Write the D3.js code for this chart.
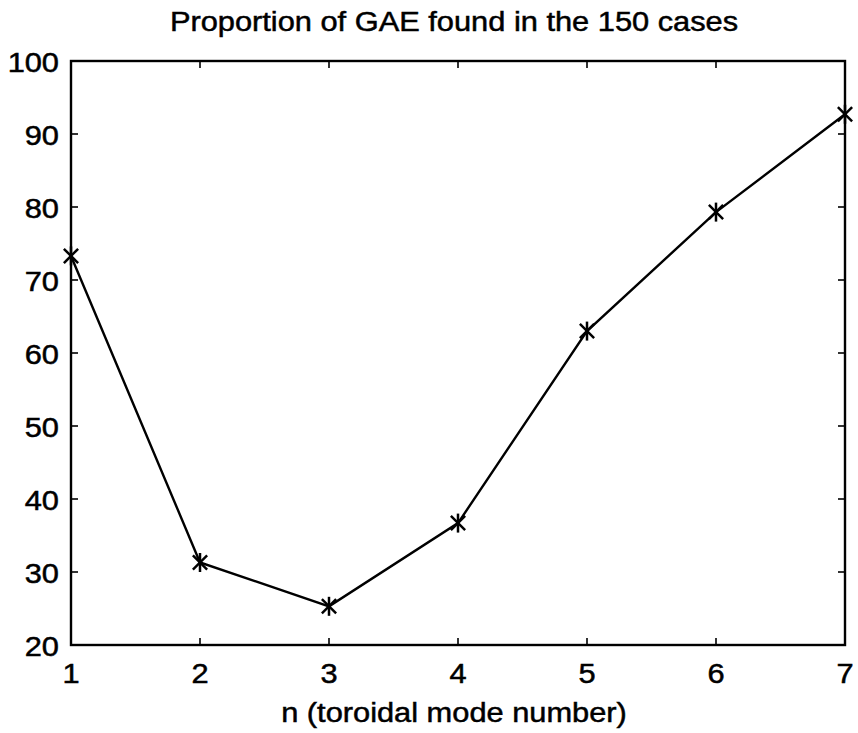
<!DOCTYPE html>
<html>
<head>
<meta charset="utf-8">
<script src="https://cdn.jsdelivr.net/npm/d3@7"></script>
<style>
  body{margin:0;background:#fff;}
  svg text{font-family:"Liberation Sans",Arial,Helvetica,sans-serif;fill:#000;stroke:#000;stroke-width:0.5;}
</style>
</head>
<body>
<svg id="chart" width="858" height="733"></svg>
<script>
// data
const modes=[1,2,3,4,5,6,7];
const proportion=[73.3,31.3,25.3,36.7,63.0,79.3,92.7];
const xTicks=[1,2,3,4,5,6,7];
const yTicks=[20,30,40,50,60,70,80,90,100];

const m={left:71,right:13,top:61,bottom:88};
const W=858,H=733;
const fs=28, sx=1.1; // scan is a bit stretched sideways
const svg=d3.select("#chart");

const x=d3.scaleLinear().domain([1,7]).range([m.left,W-m.right]);
const y=d3.scaleLinear().domain([20,100]).range([H-m.bottom,m.top]);

function label(px,py,txt,anchor){
  svg.append("g").attr("transform","translate("+px+","+py+") scale("+sx+",1)")
    .append("text").attr("text-anchor",anchor).attr("font-size",fs).text(txt);
}

// box
svg.append("rect")
  .attr("x",x(1)).attr("y",y(100))
  .attr("width",x(7)-x(1)).attr("height",y(20)-y(100))
  .attr("fill","none").attr("stroke","#000").attr("stroke-width",2.4);

const tk=7;
// ticks (inward, on all four sides)
const g=svg.append("g").attr("stroke","#000").attr("stroke-width",1.6);
xTicks.forEach(v=>{
  g.append("line").attr("x1",x(v)).attr("x2",x(v)).attr("y1",y(20)).attr("y2",y(20)-tk);
  g.append("line").attr("x1",x(v)).attr("x2",x(v)).attr("y1",y(100)).attr("y2",y(100)+tk);
});
yTicks.forEach(v=>{
  g.append("line").attr("x1",x(1)).attr("x2",x(1)+tk).attr("y1",y(v)).attr("y2",y(v));
  g.append("line").attr("x1",x(7)).attr("x2",x(7)-tk).attr("y1",y(v)).attr("y2",y(v));
});

// tick labels
xTicks.forEach(v=>label(x(v),y(20)+38,v,"middle"));
yTicks.forEach(v=>label(x(1)-12,y(v)+11,v,"end"));

// line
const line=d3.line().x((d,i)=>x(modes[i])).y(d=>y(d));
svg.append("path").datum(proportion)
  .attr("d",line).attr("fill","none")
  .attr("stroke","#000").attr("stroke-width",2.4);

// asterisk markers
const r=9.5;
const mk=svg.selectAll(".mk").data(proportion).enter().append("g")
  .attr("transform",(d,i)=>"translate("+x(modes[i])+","+y(d)+")")
  .attr("stroke","#000").attr("stroke-width",2.5);
mk.append("line").attr("x1",0).attr("x2",0).attr("y1",-r).attr("y2",r);
mk.append("line").attr("x1",-r*0.75).attr("x2",r*0.75).attr("y1",-r*0.75).attr("y2",r*0.75);
mk.append("line").attr("x1",-r*0.75).attr("x2",r*0.75).attr("y1",r*0.75).attr("y2",-r*0.75);

// title and label
label(454,31,"Proportion of GAE found in the 150 cases","middle");
label(454,722,"n (toroidal mode number)","middle");
</script>
</body>
</html>
